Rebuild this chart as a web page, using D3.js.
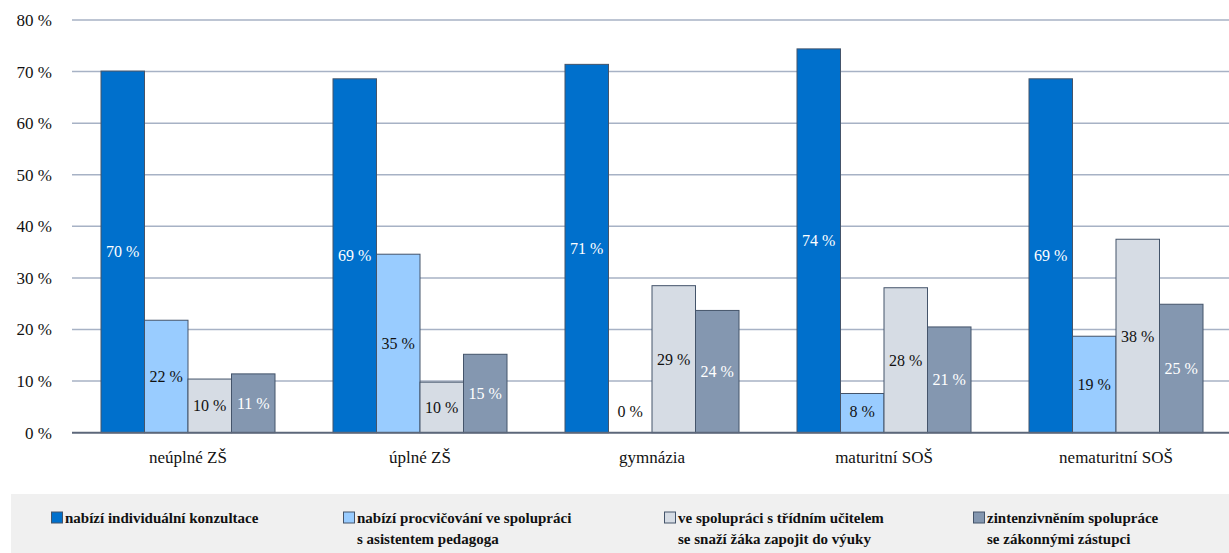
<!DOCTYPE html>
<html>
<head>
<meta charset="utf-8">
<script src="https://cdn.jsdelivr.net/npm/d3@7"></script>
</head>
<body style="margin:0; background:#fff">
<svg width="1229" height="553" style="display:block" font-family="Liberation Serif"></svg>
<script>
var categories = ["neúplné ZŠ", "úplné ZŠ", "gymnázia", "maturitní SOŠ", "nematuritní SOŠ"];
var seriesNames = [
  ["nabízí individuální konzultace"],
  ["nabízí procvičování ve spolupráci", "s asistentem pedagoga"],
  ["ve spolupráci s třídním učitelem", "se snaží žáka zapojit do výuky"],
  ["zintenzivněním spolupráce", "se zákonnými zástupci"]
];
var individualni = [70.1, 68.6, 71.4, 74.4, 68.6];
var asistent = [21.8, 34.6, 0, 7.6, 18.7];
var tridni = [10.4, 9.8, 28.5, 28.1, 37.5];
var zastupci = [11.4, 15.2, 23.7, 20.5, 24.9];
var yTicks = [0, 10, 20, 30, 40, 50, 60, 70, 80];

var colors = ["#0070cc", "#99ccff", "#d6dce4", "#8497b0"];
var labelColors = ["#fff", "#111", "#111", "#fff"];
var series = [individualni, asistent, tridni, zastupci];

var svg = d3.select("svg");

var x0 = d3.scaleBand().domain(categories).range([72, 1232]).paddingInner(0.25).paddingOuter(0.125);
var x1 = d3.scaleBand().domain(d3.range(4)).range([0, x0.bandwidth()]);
var y = d3.scaleLinear().domain([0, 80]).range([432.7, 20]);

// gridlines
svg.append("g")
  .selectAll("line")
  .data(yTicks.filter(d => d > 0))
  .enter()
  .append("line")
    .attr("x1", 72)
    .attr("x2", 1229)
    .attr("y1", d => y(d))
    .attr("y2", d => y(d))
    .attr("stroke", "#a7b2c5")
    .attr("stroke-width", 1.5);

// y labels
var yAxis = d3.axisLeft(y).tickValues(yTicks).tickSize(0).tickPadding(0).tickFormat(d => d + " %");
svg.append("g")
  .attr("transform", "translate(52,0)")
  .call(yAxis)
  .call(g => g.select(".domain").remove())
  .attr("font-family", "Liberation Serif")
  .attr("font-size", 17)
  .selectAll("text")
    .attr("font-family", "Liberation Serif")
    .attr("font-size", 17)
    .attr("fill", "#111");

// bars
var groups = svg.append("g")
  .selectAll("g")
  .data(categories)
  .enter()
  .append("g")
    .attr("transform", d => "translate(" + x0(d) + ",0)");

groups.selectAll("rect")
  .data((c, i) => series.map((s, k) => ({ k: k, v: s[i] })))
  .enter()
  .append("rect")
    .attr("x", d => x1(d.k))
    .attr("width", x1.bandwidth())
    .attr("y", d => y(d.v))
    .attr("height", d => y(0) - y(d.v))
    .attr("fill", d => colors[d.k])
    .attr("stroke", d => d.v > 0 ? "#44546a" : "none")
    .attr("stroke-width", 1);

groups.selectAll("text")
  .data((c, i) => series.map((s, k) => ({ k: k, v: s[i] })))
  .enter()
  .append("text")
    .text(d => Math.round(d.v) + " %")
    .attr("x", d => x1(d.k) + x1.bandwidth() / 2)
    .attr("y", d => Math.min((y(d.v) + y(0)) / 2, y(0) - 21))
    .attr("dy", "0.35em")
    .attr("text-anchor", "middle")
    .attr("font-family", "Liberation Serif")
    .attr("font-size", 16)
    .attr("fill", d => labelColors[d.k]);

// baseline
svg.append("line")
  .attr("x1", 72)
  .attr("x2", 1229)
  .attr("y1", y(0))
  .attr("y2", y(0))
  .attr("stroke", "#5c677a")
  .attr("stroke-width", 2);

// x labels
var xAxis = d3.axisBottom(x0).tickSize(0).tickPadding(0);
svg.append("g")
  .attr("transform", "translate(0," + (y(0) + 18) + ")")
  .call(xAxis)
  .call(g => g.select(".domain").remove())
  .attr("font-family", "Liberation Serif")
  .attr("font-size", 17)
  .selectAll("text")
    .attr("font-family", "Liberation Serif")
    .attr("font-size", 17)
    .attr("fill", "#111");

// legend
var legendX = [51, 343, 664, 973];
var legend = svg.append("g");
legend.append("rect")
  .attr("x", 11)
  .attr("y", 494)
  .attr("width", 1218)
  .attr("height", 59)
  .attr("fill", "#f0f0f0");

var items = legend.selectAll("g.item")
  .data(seriesNames)
  .enter()
  .append("g")
    .attr("class", "item")
    .attr("transform", (d, i) => "translate(" + legendX[i] + ",0)");

items.append("rect")
  .attr("x", 0.5)
  .attr("y", 512)
  .attr("width", 11)
  .attr("height", 11)
  .attr("fill", (d, i) => colors[i])
  .attr("stroke", "#44546a")
  .attr("stroke-width", 1);

items.each(function(lines) {
  d3.select(this).selectAll("text")
    .data(lines)
    .enter()
    .append("text")
      .text(t => t)
      .attr("x", 14)
      .attr("y", (t, j) => 523 + j * 21)
      .attr("font-family", "Liberation Serif")
      .attr("font-size", 15)
      .attr("font-weight", "bold")
      .attr("fill", "#111");
});
</script>
</body>
</html>
